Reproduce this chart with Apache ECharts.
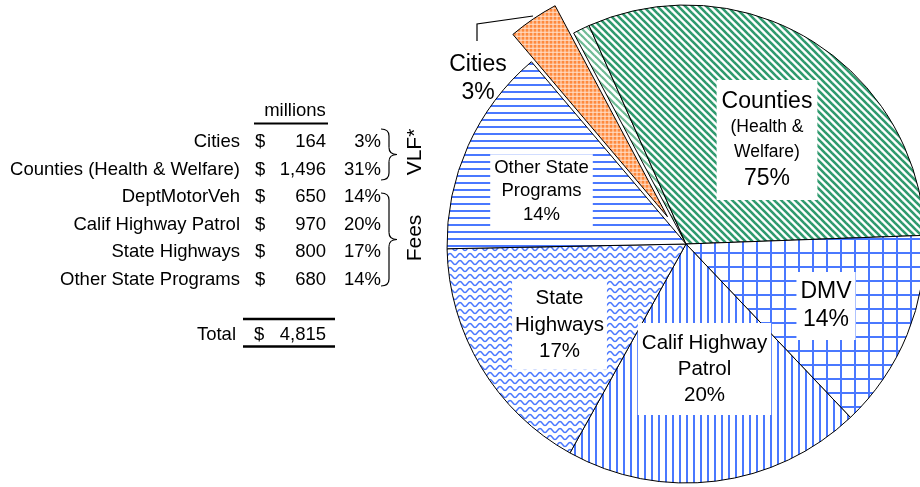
<!DOCTYPE html>
<html><head><meta charset="utf-8">
<script src="https://cdn.jsdelivr.net/npm/echarts@6/dist/echarts.min.js"></script>
<style>html,body{margin:0;padding:0;background:#fff}#c{width:920px;height:487px}</style>
</head><body><div id="c"></div>
<script>
// ---- data ----
const tableNames = ['Cities', 'Counties (Health & Welfare)', 'DeptMotorVeh', 'Calif Highway Patrol', 'State Highways', 'Other State Programs'];
const tableValues = [164, 1496, 650, 970, 800, 680];
const tablePercents = ['3%', '31%', '14%', '20%', '17%', '14%'];
const totalValue = 4815;
const pieNames = ['Cities', 'Other VLF', 'Counties', 'DMV', 'Calif Highway Patrol', 'State Highways', 'Other State Programs'];
const pieValues = [164, 55, 1496, 650, 970, 800, 680];
const pieLabels = ['Cities\n3%', '', '{b|Counties}\n{s|(Health &}\n{s|Welfare)}\n{b|75%}', 'DMV\n14%', 'Calif Highway\nPatrol\n20%', 'State\nHighways\n17%', 'Other State\nPrograms\n14%'];

// ---- patterns ----
function pat(w, h, draw) {
  const c = document.createElement('canvas'); c.width = w; c.height = h;
  const g = c.getContext('2d'); g.fillStyle = '#fff'; g.fillRect(0, 0, w, h);
  draw(g, w, h); return { image: c, repeat: 'repeat' };
}
const BLUE = '#4a78ff';
const pHoriz = pat(8, 7, (g, w) => { g.fillStyle = BLUE; g.fillRect(0, 0, w, 2); });
const pVert = pat(7, 8, (g, w, h) => { g.fillStyle = BLUE; g.fillRect(0, 0, 2, h); });
const pGrid = pat(14, 14, (g, w, h) => { g.fillStyle = BLUE; g.fillRect(0, 0, 2, h); g.fillRect(0, 0, w, 2); });
const pWave = pat(10, 7, (g, w, h) => {
  g.strokeStyle = BLUE; g.lineWidth = 1.5; g.beginPath();
  for (let i = 0; i <= 24; i++) { const x = -1 + i * 0.5; const y = 3.5 - 2 * Math.cos(2 * Math.PI * x / w); if (i === 0) g.moveTo(x, y); else g.lineTo(x, y); }
  g.stroke();
});
function diag(col, lw, s) {
  return pat(s, s, (g) => {
    g.strokeStyle = col; g.lineWidth = lw;
    for (let k = -1; k <= 1; k++) { g.beginPath(); g.moveTo(-1, -1 + k * s); g.lineTo(s + 1, s + 1 + k * s); g.stroke(); }
  });
}
const pCounties = diag('#2f9a6e', 2.6, 7);
const pLight = diag('#6fbb95', 2.2, 7);
const pDots = pat(4, 4, (g) => { g.fillStyle = '#ffe2cf'; g.fillRect(0, 0, 4, 4); g.fillStyle = '#ff8a3d'; g.fillRect(0, 0, 3, 3); });
const pieFills = [pDots, pLight, pCounties, pGrid, pVert, pWave, pHoriz];

const FF = '"Liberation Sans", Arial, sans-serif';
const labelPos = [null, null, [767, 140], [826, 306], [704.5, 369], [559.5, 325], [541.5, 191]];
const labelOpts = [
  { show: false },
  { show: false },
  { backgroundColor: '#fff', padding: [8, 5], rich: { b: { fontSize: 23, lineHeight: 27, fontFamily: FF, color: '#000' }, s: { fontSize: 17.5, lineHeight: 25, fontFamily: FF, color: '#000' } } },
  { fontSize: 23, lineHeight: 28, backgroundColor: '#fff', padding: [6, 4] },
  { fontSize: 20.5, lineHeight: 26, backgroundColor: '#fff', padding: [7, 4] },
  { fontSize: 20.5, lineHeight: 26.5, backgroundColor: '#fff', padding: [5, 3] },
  { fontSize: 18.5, lineHeight: 23.5, backgroundColor: '#fff', padding: [1.5, 4] }
];

const pieData = pieNames.map((n, i) => ({
  name: n, value: pieValues[i], selected: i === 0,
  itemStyle: { color: pieFills[i] },
  label: Object.assign({ show: true, position: 'inside', rotate: 0, formatter: pieLabels[i], color: '#000', fontFamily: FF }, labelOpts[i])
}));

// ---- table graphics ----
const FONT = '18.5px ' + FF;
function txt(x, y, text, align, font, rot, lh) {
  const st = { text: text, align: align, verticalAlign: 'middle', textAlign: align, textVerticalAlign: 'middle', font: font || FONT, fill: '#000' };
  if (lh) st.lineHeight = lh;
  return { type: 'text', x: x, y: y, rotation: rot || 0, silent: true, style: st };
}
function ln(x1, y1, x2, y2, w) { return { type: 'line', silent: true, shape: { x1, y1, x2, y2 }, style: { stroke: '#000', lineWidth: w || 1.2 } }; }
function qc(x1, y1, cx, cy, x2, y2) { return { type: 'bezierCurve', silent: true, shape: { x1, y1, x2, y2, cpx1: cx, cpy1: cy }, style: { stroke: '#000', lineWidth: 1.2, fill: null } }; }
function brace(x0, top, bot, spine, tip) {
  const mid = (top + bot) / 2, r = 7;
  return [
    qc(x0, top, spine, top, spine, top + r), ln(spine, top + r, spine, mid - r),
    qc(spine, mid - r, spine, mid, tip, mid), qc(tip, mid, spine, mid, spine, mid + r),
    ln(spine, mid + r, spine, bot - r), qc(spine, bot - r, spine, bot, x0, bot)
  ];
}
const fmt = v => v.toLocaleString('en-US');
const graphics = [];
graphics.push(txt(295, 111, 'millions', 'center'));
graphics.push(ln(254, 123.5, 328, 123.5, 2));
tableNames.forEach((n, i) => {
  const y = 142 + i * 27.6;
  graphics.push(txt(240, y, n, 'right'));
  graphics.push(txt(255, y, '$', 'left'));
  graphics.push(txt(326, y, fmt(tableValues[i]), 'right'));
  graphics.push(txt(381, y, tablePercents[i], 'right'));
});
graphics.push(ln(243, 319, 335, 319, 2.5));
graphics.push(txt(236, 335, 'Total', 'right'));
graphics.push(txt(254, 335, '$', 'left'));
graphics.push(txt(326, 335, fmt(totalValue), 'right'));
graphics.push(ln(243, 346.5, 335, 346.5, 2.5));
brace(381, 129, 180, 389, 397).forEach(e => graphics.push(e));
brace(381, 193, 286, 389, 397).forEach(e => graphics.push(e));
graphics.push(txt(415, 152, 'VLF*', 'center', '21px ' + FF, Math.PI / 2));
graphics.push(txt(415, 238, 'Fees', 'center', '21px ' + FF, Math.PI / 2));
// Cities outside label and its leader line
graphics.push(txt(478, 79, pieLabels[0], 'center', '23px ' + FF, 0, 28));
graphics.push({ type: 'polyline', silent: true, shape: { points: [[477, 41], [477, 24], [533, 16]] }, style: { stroke: '#000', lineWidth: 1.2, fill: null } });

const chart = echarts.init(document.getElementById('c'), null, { renderer: 'canvas' });
chart.setOption({
  animation: false,
  backgroundColor: '#fff',
  graphic: { elements: graphics },
  series: [{
    type: 'pie',
    center: [686, 244],
    radius: 239,
    startAngle: 130.3,
    clockwise: true,
    avoidLabelOverlap: false,
    selectedMode: 'single',
    selectedOffset: 33,
    emphasis: { disabled: true },
    itemStyle: { borderColor: '#000', borderWidth: 1 },
    select: { itemStyle: { borderColor: '#000', borderWidth: 1 } },
    labelLine: { show: false },
    labelLayout: function (p) {
      const q = labelPos[p.dataIndex];
      if (!q) return {};
      return { x: q[0], y: q[1], align: 'center', verticalAlign: 'middle' };
    },
    data: pieData
  }]
});
</script>
</body></html>
